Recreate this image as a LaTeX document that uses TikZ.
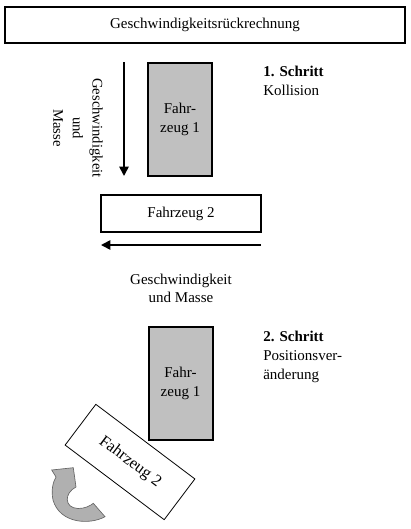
\documentclass[tikz,border=0pt]{standalone}
\usepackage{fontspec}
\setmainfont{Liberation Serif}
\usepackage{tikz}
\usetikzlibrary{arrows.meta, positioning, calc}
\definecolor{vehiclegray}{RGB}{192,192,192}
\definecolor{turngray}{RGB}{176,176,176}

\begin{document}
\begin{tikzpicture}[
    x=0.75pt, y=-0.75pt,
    every node/.style={font=\fontsize{11.25}{14}\selectfont},
    titlebox/.style={draw, line width=1.5pt, minimum width=300pt, minimum height=27pt, inner sep=0pt},
    vehicle/.style={draw, line width=1.5pt, fill=#1, minimum width=48pt, minimum height=84.75pt, inner sep=0pt, align=center},
    steptext/.style={inner sep=0pt, align=left, anchor=base west},
    flowarrow/.style={line width=1.3pt, -{Triangle[length=7pt, width=7pt]}}
]
    \useasboundingbox (0,0) rectangle (411,529);

    % Title
    \node[titlebox] (title) at (205,25) {Geschwindigkeitsrückrechnung};

    % Step 1: collision
    \node[vehicle=vehiclegray] (car1a) at (180,119.5) {Fahr-\\zeug 1};
    \node[vehicle=white, minimum width=120pt, minimum height=27.75pt] (car2a) at (181,213.5) {Fahrzeug 2};
    \node[steptext] (step1) at (263,95) {\textbf{1. Schritt}\\Kollision};

    \coordinate (vtop) at (124,62);
    \coordinate (vend) at (124,176);
    \draw[flowarrow] (vtop) -- (vend);
    \node[rotate=-90, inner sep=0pt, align=center, font=\fontsize{11}{14.8}\selectfont] (vlabel) at (78,128) {Geschwindigkeit\\und\\Masse};

    \coordinate (htop) at (261,245);
    \coordinate (hend) at (101,245);
    \draw[flowarrow] (htop) -- (hend);
    \node[inner sep=0pt, align=center] (hlabel) at (181,288.5) {Geschwindigkeit\\und Masse};

    % Step 2: change of position
    \node[vehicle=vehiclegray] (car1b) at (180.5,383.5) {Fahr-\\zeug 1};
    \node[steptext] (step2) at (263,379) {\textbf{2. Schritt}\\Positionsver-\\änderung};
    \node[draw, line width=0.6pt, fill=white, minimum width=93pt, minimum height=38.25pt, rotate=-37, font=\fontsize{12.25}{15}\selectfont] (car2b) at (130,462) {Fahrzeug 2};

    % turning arrow
    \draw[line width=0.5pt, draw=black!60, fill=turngray]
        (105,516.7) .. controls (90,525) and (60,524) .. (53,500)
        .. controls (51,490) and (53,482) .. (56,477)
        -- (51.7,470) -- (73.3,467.7) -- (76,487)
        .. controls (64,493) and (64,508) .. (78,508.5)
        .. controls (85,508.5) and (90,506) .. (93.3,503.3) -- cycle;
\end{tikzpicture}
\end{document}
